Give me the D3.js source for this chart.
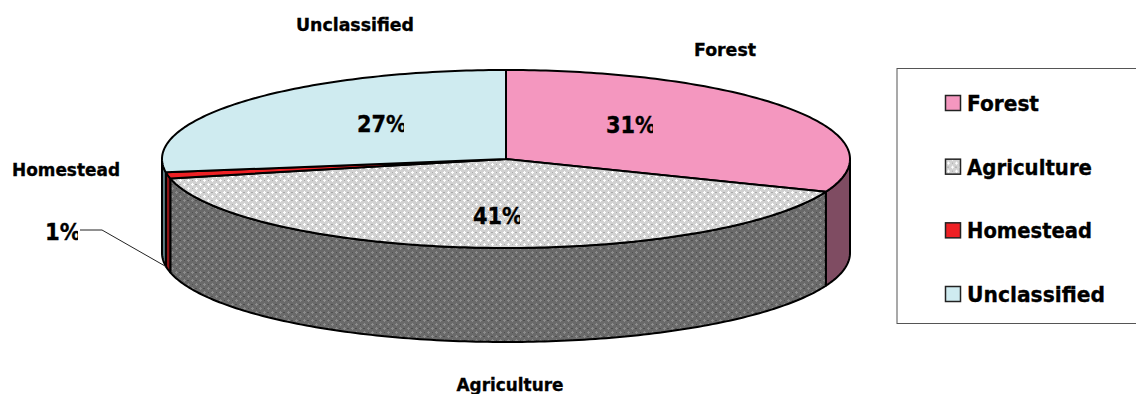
<!DOCTYPE html>
<html><head><meta charset="utf-8">
<script src="https://cdn.jsdelivr.net/npm/d3@7/dist/d3.min.js"></script>
<style>html,body{margin:0;padding:0;background:#fff}svg{display:block}
text{font-family:"DejaVu Sans",Verdana,sans-serif;font-weight:bold;fill:#000;stroke:#000;stroke-width:.35px}</style>
</head><body>
<svg id="c" width="1136" height="394"></svg>
<script>
const categories=["Forest","Agriculture","Homestead","Unclassified"];
const values=[31.0,40.5,1.1,27.4];
const pctLabels=["31%","41%","1%","27%"];
const topColors=["#f497bf","#d8d8d8","#ee2024","#cfebf0"];
const sideColors=["#7f4c62","#6a6a6a","#8c1418","#5f7d83"];
const labelPos=[[725,50],[510,385],[66,170],[355,25]];
const pctPos=[[631,125],[498,216],[63,232],[382,124]];

const cx=506,cy=159,rx=344,ry=89,depth=94;
const svg=d3.select("#c");
const defs=svg.append("defs");
function pat(id,base,hi,lo){
  const p=defs.append("pattern").attr("id",id).attr("width",8).attr("height",8).attr("patternUnits","userSpaceOnUse");
  p.append("rect").attr("width",8).attr("height",8).attr("fill",base);
  [[0,0],[4,4]].forEach(([x,y])=>{
    [[-1,0,3,1],[0,-1,1,3]].forEach(([dx,dy,w,h])=>{
      [0,8].forEach(ox=>[0,8].forEach(oy=>p.append("rect").attr("x",x+dx+ox).attr("y",y+dy+oy).attr("width",w).attr("height",h).attr("fill",hi)));
    });
  });
  [[4,0],[0,4]].forEach(([x,y])=>p.append("rect").attr("x",x-1).attr("y",y).attr("width",2).attr("height",1).attr("fill",lo));
}
pat("pTop","#d2d2d2","#ffffff","#a8a8a8");
pat("pSide","#6a6a6a","#8c8c8c","#4e4e4e");
const fills=(i,side)=>i===1?(side?"url(#pSide)":"url(#pTop)"):(side?sideColors[i]:topColors[i]);

const arcs=d3.pie().sort(null).value(d=>d)(values);
const pt=(a,dy)=>[cx+rx*Math.sin(a),cy-ry*Math.cos(a)+dy];
function ellArc(p,a0,a1,dy,moveTo){
  const [x0,y0]=pt(a0,dy);
  if(moveTo)p.moveTo(x0,y0);else p.lineTo(x0,y0);
  const n=Math.max(2,Math.ceil(Math.abs(a1-a0)*60));
  for(let k=1;k<=n;k++){const q=pt(a0+(a1-a0)*k/n,dy);p.lineTo(q[0],q[1]);}
}
const g=svg.append("g").attr("stroke","#000").attr("stroke-width",2).attr("stroke-linejoin","round");
const lo=Math.PI/2,hi=3*Math.PI/2;
const walls=arcs.map((d,i)=>({i,a0:Math.max(d.startAngle,lo),a1:Math.min(d.endAngle,hi)})).filter(d=>d.a1>d.a0);
g.selectAll("path.wall").data(walls).join("path").attr("class","wall")
 .attr("fill",d=>fills(d.i,true))
 .attr("d",d=>{const p=d3.path();ellArc(p,d.a0,d.a1,0,true);ellArc(p,d.a1,d.a0,depth,false);p.closePath();return p.toString();});
g.selectAll("path.top").data(arcs).join("path").attr("class","top")
 .attr("fill",(d,i)=>fills(i,false))
 .attr("d",d=>{const p=d3.path();p.moveTo(cx,cy);ellArc(p,d.startAngle,d.endAngle,0,false);p.closePath();return p.toString();});

const hs=arcs[2];
const tip=pt((hs.startAngle+hs.endAngle)/2,depth*0.98);
svg.append("path").attr("fill","none").attr("stroke","#222").attr("stroke-width",1)
 .attr("d",d3.line()([[80,230],[102,230],[tip[0]-2,tip[1]-1]]));

svg.selectAll("text.cat").data(categories).join("text").attr("class","cat")
 .attr("x",(d,i)=>labelPos[i][0]).attr("y",(d,i)=>labelPos[i][1]+6)
 .attr("text-anchor","middle").attr("font-size",18).attr("textLength",(d,i)=>[62,107,108,118][i]).attr("lengthAdjust","spacingAndGlyphs").text(d=>d);
// percentage labels: the last stroke of the % sign is cut off in the original
pctLabels.forEach((t,i)=>{
  const w=i===2?36:50, x=pctPos[i][0]-w/2, y=pctPos[i][1];
  defs.append("clipPath").attr("id","cp"+i).append("rect").attr("x",x-2).attr("y",y-20).attr("width",w-1).attr("height",40);
  svg.append("text").attr("class","pct").attr("clip-path",`url(#cp${i})`)
   .attr("x",x).attr("y",y+8).attr("font-size",23).attr("textLength",w).attr("lengthAdjust","spacingAndGlyphs").text(t);
});

svg.append("rect").attr("x",897).attr("y",68.5).attr("width",240).attr("height",255).attr("fill","#fff").attr("stroke","#555").attr("stroke-width",1);
const ly=d3.scalePoint().domain(categories).range([103,294]);
const lg=svg.selectAll("g.lg").data(categories).join("g").attr("class","lg").attr("transform",d=>`translate(0,${ly(d)})`);
lg.append("rect").attr("x",945.5).attr("y",-7.5).attr("width",15).attr("height",15).attr("stroke","#222").attr("stroke-width",1.5).attr("fill",(d,i)=>fills(i,false));
lg.append("text").attr("x",967).attr("y",8).attr("font-size",22).attr("textLength",(d,i)=>[72,125,125,138][i]).attr("lengthAdjust","spacingAndGlyphs").text(d=>d);
</script>
</body></html>
